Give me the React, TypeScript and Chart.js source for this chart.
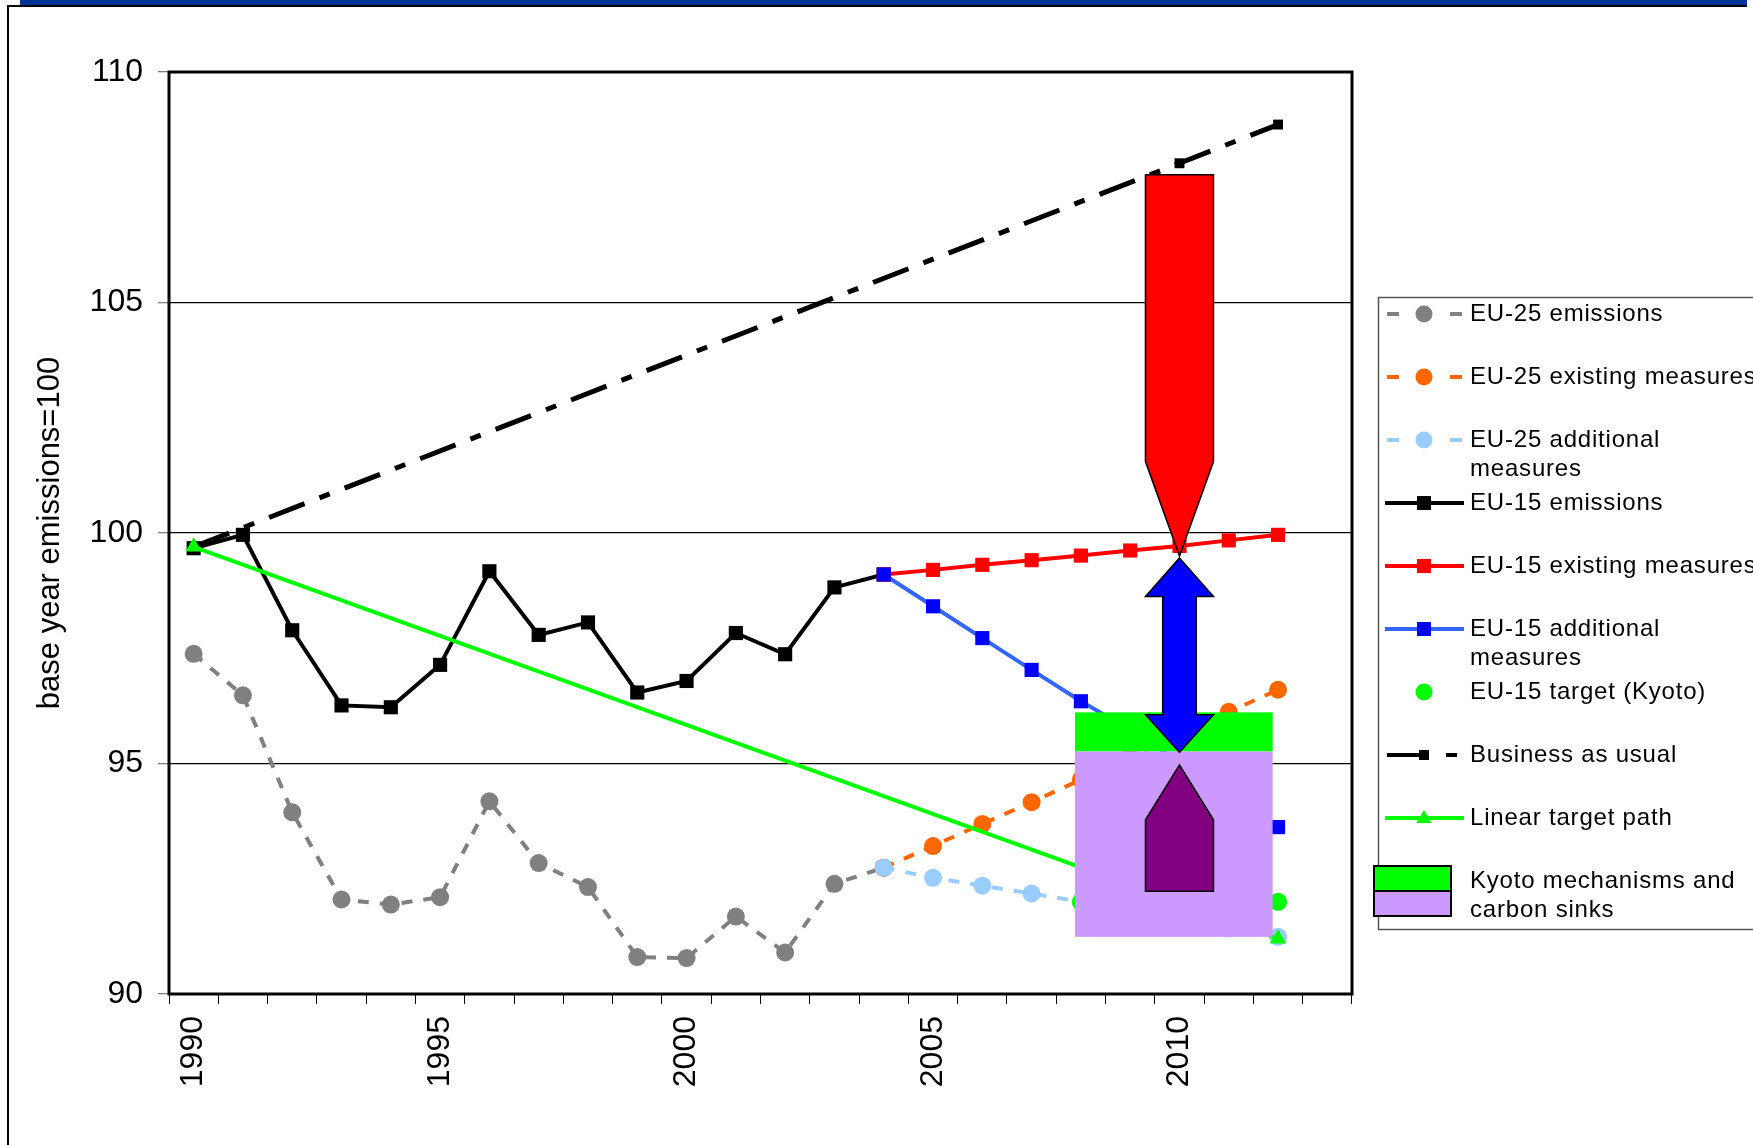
import React, { useEffect, useRef } from 'react';
import { Chart, registerables } from 'chart.js';

Chart.register(...registerables);

// ---------- data ----------
const categories = [
  '1990', '1991', '1992', '1993', '1994', '1995', '1996', '1997', '1998', '1999', '2000', '2001',
  '2002', '2003', '2004', '2005', '2006', '2007', '2008', '2009', '2010', '2011', '2012', '2013',
];
const labelledYears = ['1990', '1995', '2000', '2005', '2010'];

const eu25Emissions = [97.38, 96.48, 93.94, 92.05, 91.94, 92.1, 94.18, 92.84, 92.32, 90.8, 90.78, 91.68, 90.9, 92.39, 92.74, null, null, null, null, null, null, null, null, null];
const eu25Existing = [null, null, null, null, null, null, null, null, null, null, null, null, null, null, 92.74, 93.21, 93.69, 94.16, 94.65, 95.14, 95.63, 96.12, 96.6, null];
const eu25Additional = [null, null, null, null, null, null, null, null, null, null, null, null, null, null, 92.74, 92.52, 92.35, 92.18, 92.0, 91.8, 91.6, 91.42, 91.24, null];
const eu15Emissions = [99.67, 99.96, 97.89, 96.26, 96.22, 97.14, 99.17, 97.79, 98.06, 96.54, 96.79, 97.83, 97.37, 98.82, 99.1, null, null, null, null, null, null, null, null, null];
const eu15Existing = [null, null, null, null, null, null, null, null, null, null, null, null, null, null, 99.1, 99.2, 99.31, 99.41, 99.51, 99.62, 99.72, 99.84, 99.96, null];
const eu15Additional = [null, null, null, null, null, null, null, null, null, null, null, null, null, null, 99.1, 98.41, 97.72, 97.03, 96.35, 95.73, 95.03, 94.33, 93.62, null];
const eu15Target = [null, null, null, null, null, null, null, null, null, null, null, null, null, null, null, null, null, null, 92.0, 92.0, 92.0, 92.0, 92.0, null];
const businessAsUsual = [99.7, null, null, null, null, null, null, null, null, null, null, null, null, null, null, null, null, null, null, null, 108.02, null, 108.86, null];
const linearTargetPath = [99.7, null, null, null, null, null, null, null, null, null, null, null, null, null, null, null, null, null, null, null, null, null, 91.2, null];

const seriesNames = [
  ['EU-25 emissions'],
  ['EU-25 existing measures'],
  ['EU-25 additional', 'measures'],
  ['EU-15 emissions'],
  ['EU-15 existing measures'],
  ['EU-15 additional', 'measures'],
  ['EU-15 target (Kyoto)'],
  ['Business as usual'],
  ['Linear target path'],
  ['Kyoto mechanisms and', 'carbon sinks'],
];

// annotation (in data units: year / index value)
const boxFromYear = 2007.88;
const boxToYear = 2011.89;
const mechanismsTop = 96.11;
const sinksTop = 95.26;
const sinksBottom = 91.24;
const arrowYear = 2010;
const arrowHalfWidth = 0.69;
const shaftHalfWidth = 0.34;
const redArrow = { top: 107.77, shoulder: 101.55, tip: 99.5 };
const blueArrow = { tipTop: 99.46, headTop: 98.62, headBottom: 96.06, tipBottom: 95.24 };
const purpleArrow = { tip: 94.97, shoulder: 93.78, bottom: 92.23 };

const FONT = "'Liberation Sans', Arial, sans-serif";

const C = {
  gray: '#808080',
  orange: '#FF6600',
  lightBlue: '#99CCFF',
  black: '#000000',
  red: '#FF0000',
  blueLine: '#3366FF',
  blue: '#0000FF',
  green: '#00FF00',
  lavender: '#CC99FF',
  purple: '#800080',
};

const decorPlugin = {
  id: 'decor',
  beforeDraw(chart: any) {
    const ctx = chart.ctx;
    ctx.save();
    ctx.fillStyle = '#003399';
    ctx.fillRect(20, 0, 1727, 5);
    ctx.fillStyle = '#000';
    ctx.fillRect(8, 5, 1739, 2);
    ctx.fillRect(7, 5, 2, 1140);
    ctx.restore();
  },
  afterDatasetsDraw(chart: any) {
    const ctx = chart.ctx;
    const xs = chart.scales.x;
    const ys = chart.scales.y;
    const X = (year: number) => xs.getPixelForValue(year - 1990);
    const Y = (v: number) => ys.getPixelForValue(v);
    ctx.save();
    // kyoto mechanisms & sinks box
    const bx0 = X(boxFromYear);
    const bx1 = X(boxToYear);
    ctx.fillStyle = C.green;
    ctx.fillRect(bx0, Y(mechanismsTop), bx1 - bx0, Y(sinksTop) - Y(mechanismsTop));
    ctx.fillStyle = C.lavender;
    ctx.fillRect(bx0, Y(sinksTop), bx1 - bx0, Y(sinksBottom) - Y(sinksTop));

    const cx = X(arrowYear);
    const hw = X(arrowYear + arrowHalfWidth) - cx;
    const sw = X(arrowYear + shaftHalfWidth) - cx;
    ctx.lineWidth = 1.5;
    ctx.strokeStyle = '#000';
    const poly = (pts: number[][], fill: string) => {
      ctx.beginPath();
      pts.forEach((p, i) => (i ? ctx.lineTo(p[0], p[1]) : ctx.moveTo(p[0], p[1])));
      ctx.closePath();
      ctx.fillStyle = fill;
      ctx.fill();
      ctx.stroke();
    };
    // blue double arrow
    poly([
      [cx, Y(blueArrow.tipTop)],
      [cx + hw, Y(blueArrow.headTop)],
      [cx + sw, Y(blueArrow.headTop)],
      [cx + sw, Y(blueArrow.headBottom)],
      [cx + hw, Y(blueArrow.headBottom)],
      [cx, Y(blueArrow.tipBottom)],
      [cx - hw, Y(blueArrow.headBottom)],
      [cx - sw, Y(blueArrow.headBottom)],
      [cx - sw, Y(blueArrow.headTop)],
      [cx - hw, Y(blueArrow.headTop)],
    ], C.blue);
    // purple arrow
    poly([
      [cx, Y(purpleArrow.tip)],
      [cx + hw, Y(purpleArrow.shoulder)],
      [cx + hw, Y(purpleArrow.bottom)],
      [cx - hw, Y(purpleArrow.bottom)],
      [cx - hw, Y(purpleArrow.shoulder)],
    ], C.purple);
    // red arrow
    poly([
      [cx - hw, Y(redArrow.top)],
      [cx + hw, Y(redArrow.top)],
      [cx + hw, Y(redArrow.shoulder)],
      [cx, Y(redArrow.tip)],
      [cx - hw, Y(redArrow.shoulder)],
    ], C.red);
    ctx.restore();
  },
  afterDraw(chart: any) {
    const ctx = chart.ctx;
    const a = chart.chartArea;
    ctx.save();
    // plot frame
    ctx.strokeStyle = '#000';
    ctx.lineWidth = 3;
    ctx.strokeRect(a.left, a.top, a.right - a.left, a.bottom - a.top);

    // legend
    const left = 1378;
    const top = 297;
    const bottom = 929;
    ctx.lineWidth = 1.5;
    ctx.strokeStyle = '#555';
    ctx.strokeRect(left + 0.5, top + 0.5, 600, bottom - top);

    const mx = 1424;
    const x0 = 1387;
    const x1 = 1462;
    const tx = 1470;
    const step = 63;
    const y0 = 314;
    ctx.textBaseline = 'middle';
    ctx.textAlign = 'left';
    const square = (x: number, y: number, s: number, col: string) => {
      ctx.fillStyle = col;
      ctx.fillRect(x - s / 2, y - s / 2, s, s);
    };
    const circle = (x: number, y: number, r: number, col: string) => {
      ctx.fillStyle = col;
      ctx.beginPath();
      ctx.arc(x, y, r, 0, Math.PI * 2);
      ctx.fill();
    };
    const line = (xa: number, xb: number, y: number, col: string, w: number) => {
      ctx.strokeStyle = col;
      ctx.lineWidth = w;
      ctx.beginPath();
      ctx.moveTo(xa, y);
      ctx.lineTo(xb, y);
      ctx.stroke();
    };
    const kinds = ['dashCircle', 'dashCircle', 'dashCircle', 'lineSquare', 'lineSquare', 'lineSquare', 'circle', 'dashDot', 'lineTriangle', 'box'];
    const lineCols = [C.gray, C.orange, C.lightBlue, C.black, C.red, C.blueLine, C.green, C.black, C.green, ''];
    const markCols = [C.gray, C.orange, C.lightBlue, C.black, C.red, C.blue, C.green, C.black, C.green, ''];
    seriesNames.forEach((lines, i) => {
      const y = y0 + step * i;
      const kind = kinds[i];
      if (kind === 'dashCircle') {
        ctx.fillStyle = lineCols[i];
        ctx.fillRect(x0, y - 2, 12, 4);
        ctx.fillRect(x1 - 12, y - 2, 12, 4);
        circle(mx, y, 8.5, markCols[i]);
      } else if (kind === 'lineSquare') {
        line(x0 - 2, x1 + 2, y, lineCols[i], 4);
        square(mx, y, 14, markCols[i]);
      } else if (kind === 'circle') {
        circle(mx, y, 8.5, markCols[i]);
      } else if (kind === 'dashDot') {
        line(x0, mx + 2, y, C.black, 4);
        square(mx, y, 10, C.black);
        line(1446, 1457, y, C.black, 4);
      } else if (kind === 'lineTriangle') {
        line(x0 - 2, x1 + 2, y, lineCols[i], 4);
        ctx.fillStyle = markCols[i];
        ctx.beginPath();
        ctx.moveTo(mx, y - 8);
        ctx.lineTo(mx + 7.5, y + 5);
        ctx.lineTo(mx - 7.5, y + 5);
        ctx.closePath();
        ctx.fill();
      } else if (kind === 'box') {
        ctx.lineWidth = 2;
        ctx.strokeStyle = '#000';
        ctx.fillStyle = C.green;
        ctx.fillRect(1374, 866, 77, 25);
        ctx.strokeRect(1374, 866, 77, 25);
        ctx.fillStyle = C.lavender;
        ctx.fillRect(1374, 891, 77, 25);
        ctx.strokeRect(1374, 891, 77, 25);
      }
      ctx.fillStyle = '#000';
      ctx.font = `24px ${FONT}`;
      (ctx as any).letterSpacing = '0.8px';
      lines.forEach((t, k) => ctx.fillText(t, tx, y + 29 * k));
      (ctx as any).letterSpacing = '0px';
    });
    ctx.restore();
  },
};

export default function App() {
  const ref = useRef<HTMLCanvasElement>(null);

  useEffect(() => {
    if (!ref.current) return;
    const font = { family: FONT, size: 32 };
    const chart = new Chart(ref.current, {
      type: 'line',
      data: {
        labels: categories,
        datasets: [
          {
            label: seriesNames[0].join(' '), data: eu25Emissions, order: 8,
            borderColor: C.gray, backgroundColor: C.gray, borderWidth: 4, borderDash: [11, 11],
            pointStyle: 'circle', pointRadius: 9, pointBackgroundColor: C.gray, pointBorderColor: C.gray, pointBorderWidth: 0,
          },
          {
            label: seriesNames[1].join(' '), data: eu25Existing, order: 6,
            borderColor: C.orange, backgroundColor: C.orange, borderWidth: 4, borderDash: [11, 11],
            pointStyle: 'circle', pointRadius: 9, pointBackgroundColor: C.orange, pointBorderColor: C.orange, pointBorderWidth: 0,
          },
          {
            label: seriesNames[2].join(' '), data: eu25Additional, order: 4,
            borderColor: C.lightBlue, backgroundColor: C.lightBlue, borderWidth: 4, borderDash: [11, 11],
            pointStyle: 'circle', pointRadius: 9, pointBackgroundColor: C.lightBlue, pointBorderColor: C.lightBlue, pointBorderWidth: 0,
          },
          {
            label: seriesNames[3].join(' '), data: eu15Emissions, order: 7,
            borderColor: C.black, backgroundColor: C.black, borderWidth: 4,
            pointStyle: 'rect', pointRadius: 10, pointBackgroundColor: C.black, pointBorderColor: C.black, pointBorderWidth: 0,
          },
          {
            label: seriesNames[4].join(' '), data: eu15Existing, order: 5,
            borderColor: C.red, backgroundColor: C.red, borderWidth: 4,
            pointStyle: 'rect', pointRadius: 10, pointBackgroundColor: C.red, pointBorderColor: C.red, pointBorderWidth: 0,
          },
          {
            label: seriesNames[5].join(' '), data: eu15Additional, order: 3,
            borderColor: C.blueLine, backgroundColor: C.blue, borderWidth: 4,
            pointStyle: 'rect', pointRadius: 10, pointBackgroundColor: C.blue, pointBorderColor: C.blue, pointBorderWidth: 0,
          },
          {
            label: seriesNames[6].join(' '), data: eu15Target, order: 2, showLine: false,
            borderColor: C.green, backgroundColor: C.green,
            pointStyle: 'circle', pointRadius: 9, pointBackgroundColor: C.green, pointBorderColor: C.green, pointBorderWidth: 0,
          },
          {
            label: seriesNames[7].join(' '), data: businessAsUsual, order: 9, spanGaps: true,
            borderColor: C.black, backgroundColor: C.black, borderWidth: 5, borderDash: [38, 16, 11, 16],
            pointStyle: 'rect', pointRadius: 7, pointBackgroundColor: C.black, pointBorderColor: C.black, pointBorderWidth: 0,
          },
          {
            label: seriesNames[8].join(' '), data: linearTargetPath, order: 1, spanGaps: true,
            borderColor: C.green, backgroundColor: C.green, borderWidth: 4,
            pointStyle: 'triangle', pointRadius: 9.5, pointBackgroundColor: C.green, pointBorderColor: C.green, pointBorderWidth: 0,
          },
        ] as any,
      },
      options: {
        responsive: false,
        animation: false,
        devicePixelRatio: 1,
        events: [],
        layout: { padding: { top: 72, right: 401, left: 0, bottom: 0 } },
        plugins: { legend: { display: false }, tooltip: { enabled: false } },
        scales: {
          x: {
            type: 'category',
            offset: true,
            grid: { offset: true, drawOnChartArea: false, drawTicks: true, tickLength: 10, color: '#000', lineWidth: 1 },
            border: { display: false },
            ticks: {
              autoSkip: false,
              maxRotation: 90,
              minRotation: 90,
              padding: 12,
              color: '#000',
              font,
              callback: (_v: any, i: number) => (labelledYears.includes(categories[i]) ? categories[i] : ''),
            },
            afterFit: (s: any) => { s.height = 151; },
          },
          y: {
            min: 90,
            max: 110,
            ticks: { stepSize: 5, padding: 15, color: '#000', font },
            grid: { color: '#000', lineWidth: 1.3, tickLength: 11, tickColor: '#808080' },
            border: { display: false },
            title: {
              display: true,
              text: 'base year emissions=100',
              color: '#000',
              font: { family: FONT, size: 31 },
              padding: { top: 32, bottom: 0 },
            },
            afterFit: (s: any) => { s.width = 169; },
          },
        },
      } as any,
      plugins: [decorPlugin],
    });
    return () => chart.destroy();
  }, []);

  return (
    <div style={{ position: 'fixed', left: 0, top: 0, width: 1753, height: 1145, background: '#fff' }}>
      <canvas ref={ref} width={1753} height={1145} style={{ display: 'block' }} />
    </div>
  );
}
